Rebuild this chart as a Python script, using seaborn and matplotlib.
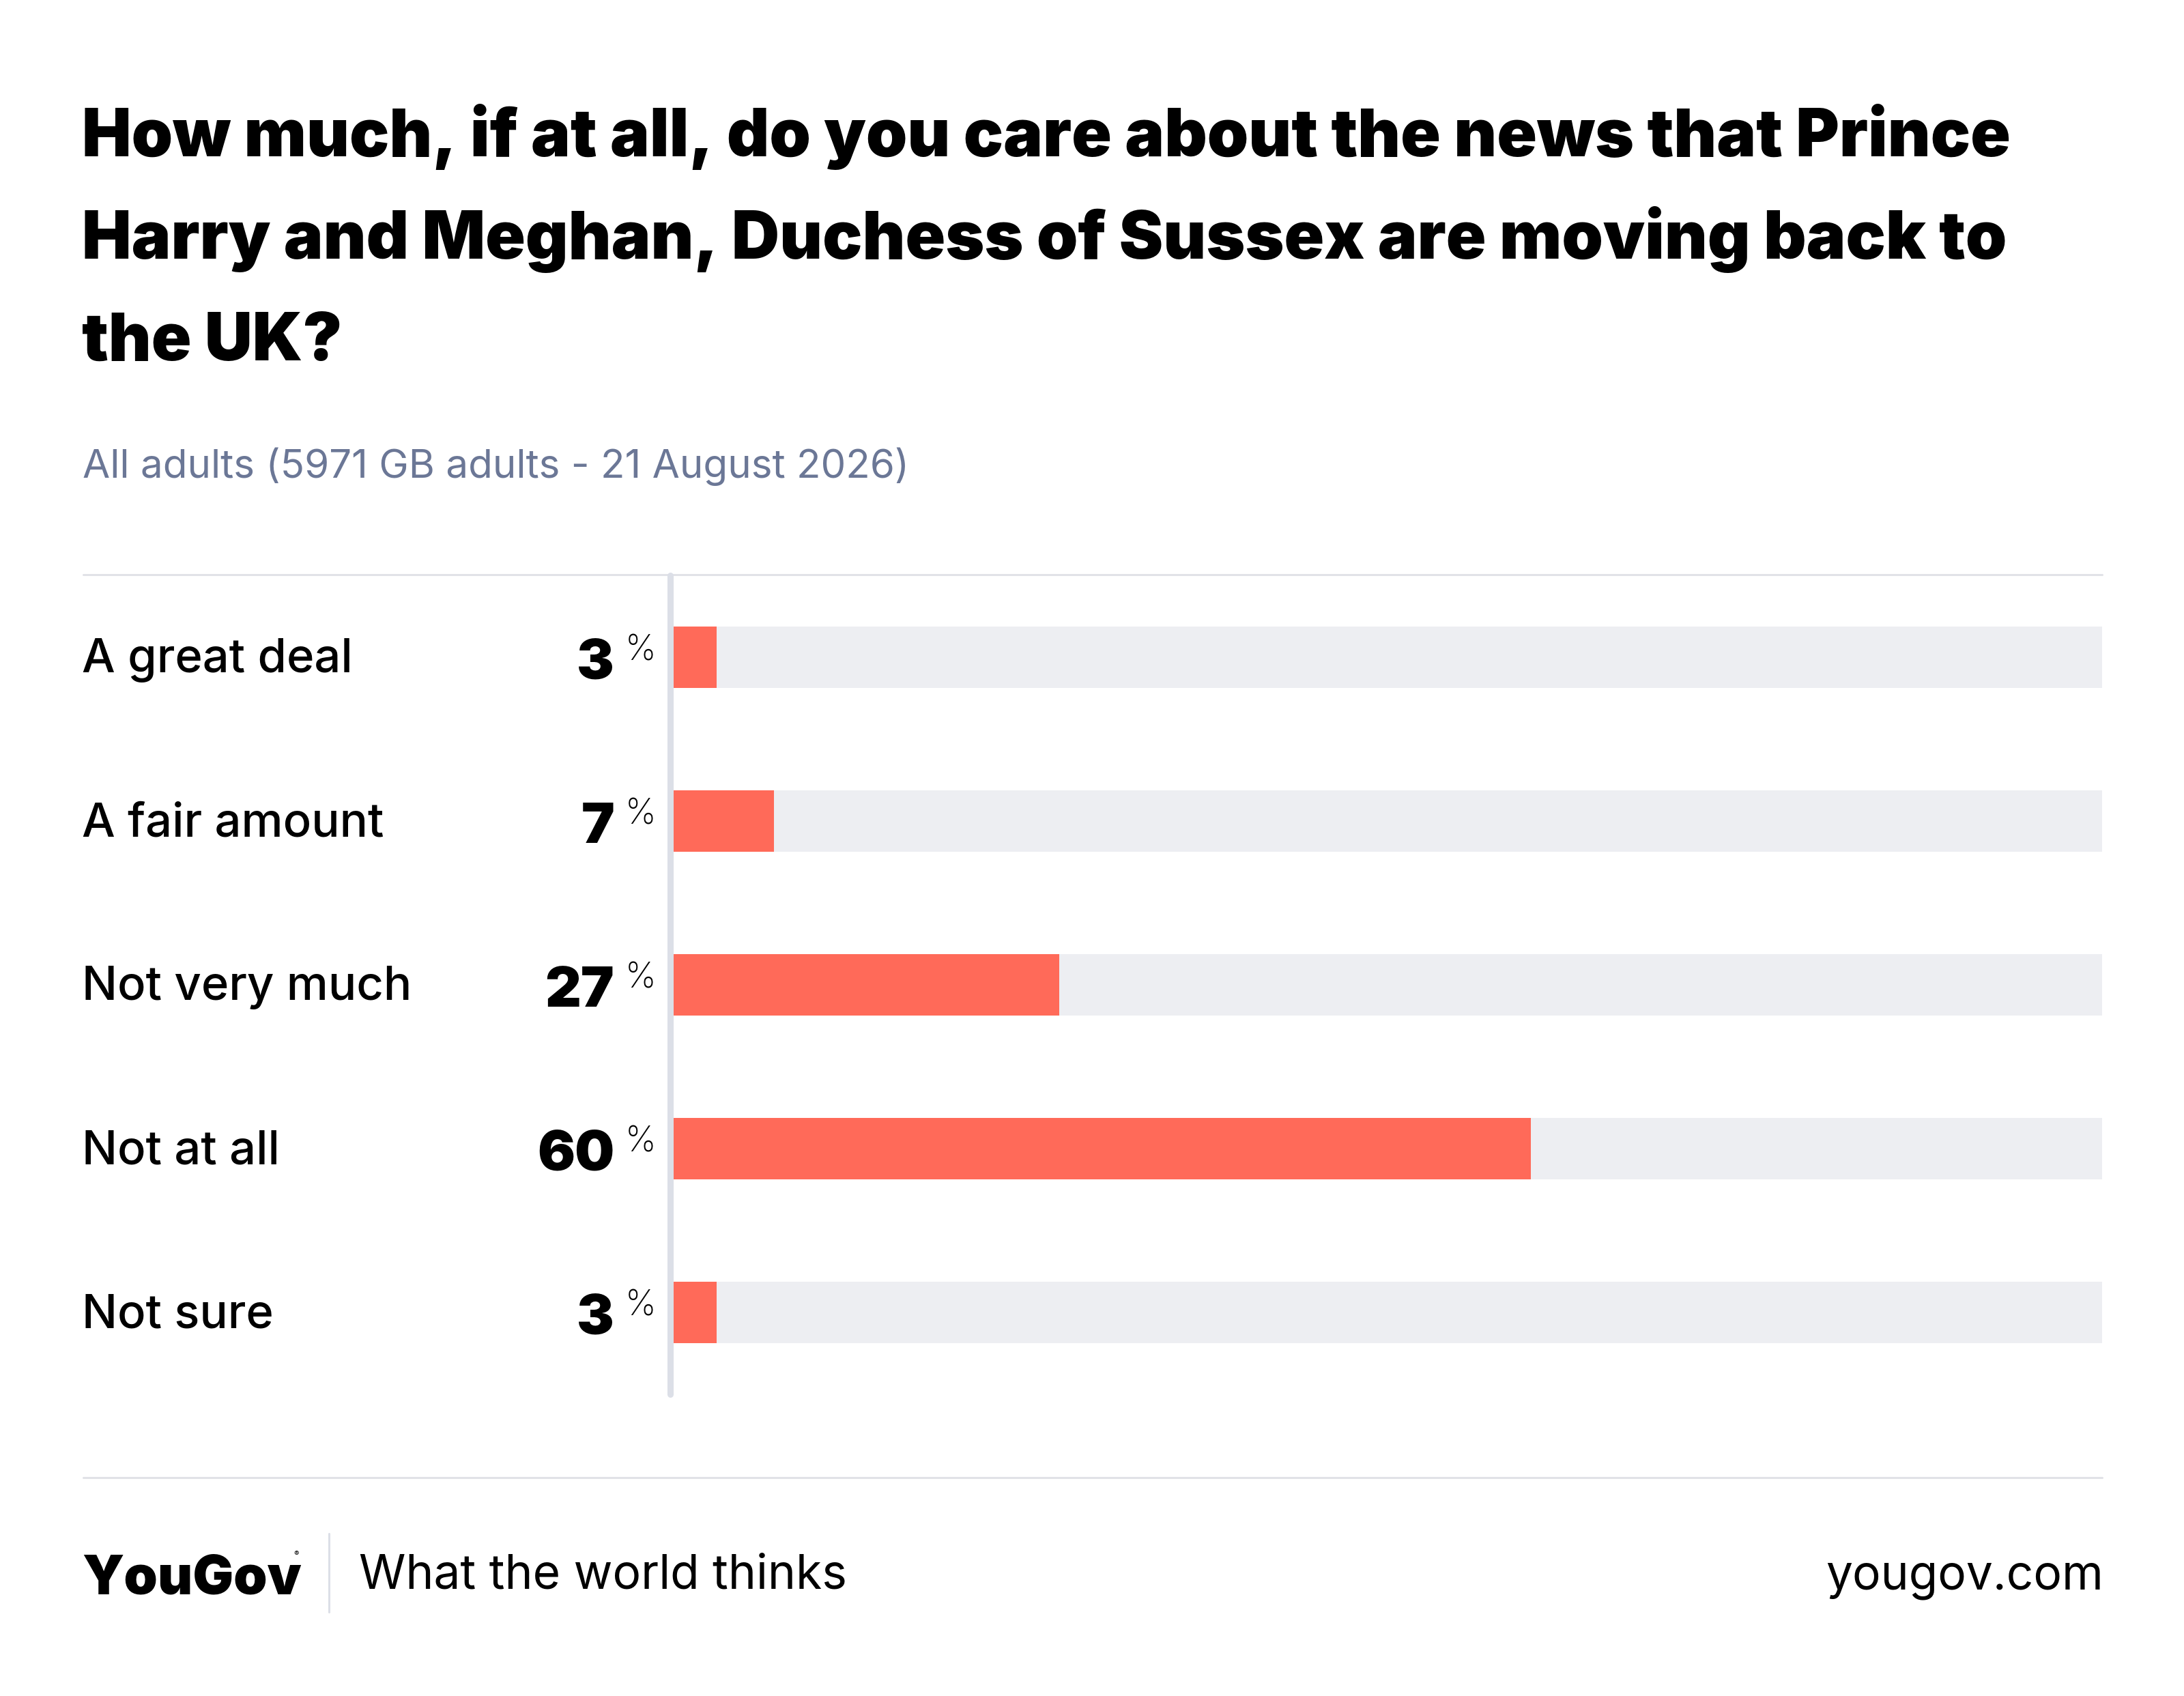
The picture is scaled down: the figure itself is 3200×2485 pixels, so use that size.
import matplotlib
matplotlib.use('Agg')
import matplotlib.pyplot as plt
import matplotlib.transforms as mtransforms
from matplotlib.lines import Line2D
import seaborn as sns

# Data
categories = ['A great deal', 'A fair amount', 'Not very much', 'Not at all', 'Not sure']
values = [3, 7, 27, 60, 3]
full_scale = [100, 100, 100, 100, 100]

title_lines = ['How much, if at all, do you care about the news that Prince',
               'Harry and Meghan, Duchess of Sussex are moving back to',
               'the UK?']
subtitle = 'All adults (5971 GB adults - 21 August 2026)'

RED = '#ff6a59'
TRACK = '#edeef2'
RULE = '#e1e2e7'
AXIS = '#dcdfe7'
SLATE = '#6b7796'

sns.set_theme(style='white')
plt.rcParams['font.family'] = ['Inter', 'DejaVu Sans']

W, H = 3200, 2485  # output pixels
def fx(x):
    return x / W
def fy(y):
    return 1 - y / H

fig = plt.figure(figsize=(32, 24.85), dpi=100, facecolor='white')

# title + subtitle
for i, line in enumerate(title_lines):
    fig.text(fx(120), fy(229 + i * 149.5), line, fontsize=69.8, fontweight='black',
             color='black', va='baseline', ha='left')
fig.text(fx(121), fy(700), subtitle, fontsize=42, color=SLATE, va='baseline', ha='left')

# bars
ax = fig.add_axes([fx(987), fy(2043), fx(3080) - fx(987), fy(843) - fy(2043)])
sns.barplot(x=full_scale, y=categories, color=TRACK, width=0.375, linewidth=0,
            saturation=1, ax=ax, orient='h')
sns.barplot(x=values, y=categories, color=RED, width=0.375, linewidth=0,
            saturation=1, ax=ax, orient='h')
ax.set_xlim(0, 100)
ax.set_ylim(4.5, -0.5)
ax.set_xlabel('')
ax.set_ylabel('')
ax.set_xticks([])
ax.set_yticks([])
for s in ax.spines.values():
    s.set_visible(False)

trans = mtransforms.blended_transform_factory(fig.transFigure, ax.transData)
for i, (cat, v) in enumerate(zip(categories, values)):
    ax.text(fx(120), i + 0.092, cat, transform=trans, fontsize=49.5, fontweight='medium',
            color='black', ha='left', va='baseline')
    ax.text(fx(900), i + 0.133, str(v), transform=trans, fontsize=59, fontweight='black',
            color='black', ha='right', va='baseline')
    ax.text(fx(916), i + 0.017, '%', transform=trans, fontsize=37, fontweight='light',
            color='black', ha='left', va='baseline')

# rules
fig.add_artist(Line2D([fx(122), fx(3080)], [fy(841.5), fy(841.5)], color=RULE, lw=2.2))
fig.add_artist(Line2D([fx(982.5), fx(982.5)], [fy(843), fy(2043)], color=AXIS, lw=6.5))
fig.add_artist(Line2D([fx(122), fx(3080)], [fy(2165), fy(2165)], color=RULE, lw=2.2))

# footer
fig.text(fx(120), fy(2336), 'YouGov', fontsize=57, fontweight='black', color='black',
         va='baseline', ha='left')
fig.text(fx(430), fy(2272), '®', fontsize=8, color='black', va='top', ha='left')
fig.add_artist(Line2D([fx(482), fx(482)], [fy(2247), fy(2362)], color=AXIS, lw=2.2))
fig.text(fx(526), fy(2328), 'What the world thinks', fontsize=50, color='black',
         va='baseline', ha='left')
fig.text(fx(3082), fy(2328), 'yougov.com', fontsize=50, color='black',
         va='baseline', ha='right')

fig.savefig('out.png', dpi=100, facecolor='white')
